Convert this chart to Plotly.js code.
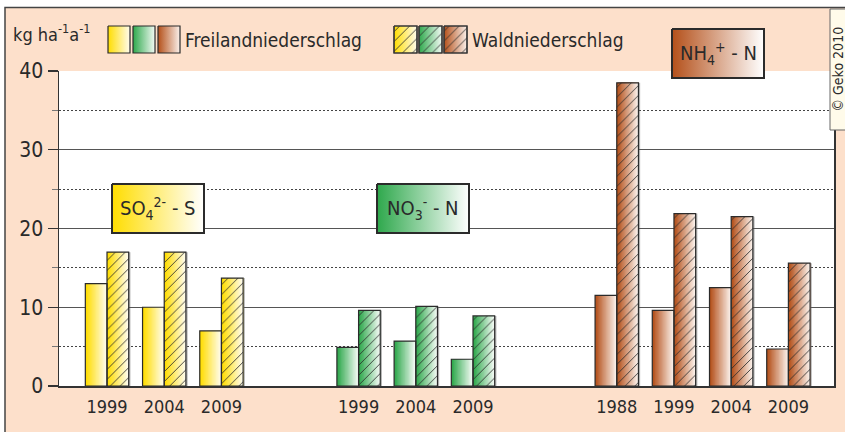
<!DOCTYPE html>
<html><head><meta charset="utf-8">
<script src="https://cdn.plot.ly/plotly-3.0.1.min.js"></script>
<style>html,body{margin:0;padding:0;background:#fff}#chart{width:845px;height:432px}</style>
</head><body><div id="chart"></div>
<script>
// ---------- data ----------
const so4Years = ['1999', '2004', '2009'];
const so4Freiland = [13.0, 10.0, 7.0];
const so4Wald = [17.0, 17.0, 13.7];
const no3Years = ['1999', '2004', '2009'];
const no3Freiland = [4.9, 5.7, 3.4];
const no3Wald = [9.6, 10.1, 8.9];
const nh4Years = ['1988', '1999', '2004', '2009'];
const nh4Freiland = [11.5, 9.6, 12.5, 4.7];
const nh4Wald = [38.5, 21.9, 21.5, 15.6];
const groupLabels = ['SO<sub>4</sub><sup>2-</sup> - S', 'NO<sub>3</sub><sup>-</sup> - N', 'NH<sub>4</sub><sup>+</sup> - N'];
const seriesNames = ['Freilandniederschlag', 'Waldniederschlag'];
const unitLabel = 'kg ha<sup>-1</sup>a<sup>-1</sup>';
const copyrightText = '© Geko 2010';
const yTickVals = [0, 10, 20, 30, 40];
const yMinorVals = [5, 15, 25, 35];

// ---------- layout / style ----------
const W = 845, H = 432;
const FONT = "'Liberation Sans Narrow', 'Arial Narrow', 'DejaVu Sans Condensed', 'Liberation Sans', sans-serif";
const TXT = '#2a2a2a';
const PEACH = '#FDE0CB';
const groups = [
  {years: so4Years, frei: so4Freiland, wald: so4Wald, start: 0.835, c0: '#FFDD00', c1: '#FFFCEE'},
  {years: no3Years, frei: no3Freiland, wald: no3Wald, start: 5.21, c0: '#2EA84C', c1: '#F3FAF4'},
  {years: nh4Years, frei: nh4Freiland, wald: nh4Wald, start: 9.70, c0: '#B4501A', c1: '#FBF1EB'}
];
const STEP = 0.995;
const BW = 0.377;
const XMAX = 775 / 57.5;

function hex2rgb(h){h=h.replace('#','');return [0,2,4].map(i=>parseInt(h.substr(i,2),16));}
function mix(a,b,t){const A=hex2rgb(a),B=hex2rgb(b);return 'rgb('+A.map((v,i)=>Math.round(v+(B[i]-v)*t)).join(',')+')';}

const xs = [], fr = [], wa = [], c0s = [], c1s = [], tt = [];
groups.forEach(g => g.years.forEach((y, i) => {
  xs.push(g.start + i * STEP); fr.push(g.frei[i]); wa.push(g.wald[i]);
  c0s.push(g.c0); c1s.push(g.c1); tt.push(y);
}));

const traces = [];
// shadow for forest bars
traces.push({type:'bar', x:xs, y:wa, offset:0.03, width:BW, marker:{color:'rgba(90,90,90,0.45)', line:{width:0}}, hoverinfo:'skip', showlegend:false});
const N = 16;
for (let k = 0; k < N; k++) {
  const cols = xs.map((_, i) => mix(c0s[i], c1s[i], k / (N - 1)));
  traces.push({type:'bar', x:xs, y:fr, offset:-BW + k * BW / N, width:BW * (1 - k / N),
    marker:{color:cols, line:{width:0}}, hoverinfo:'skip', showlegend:false});
  traces.push({type:'bar', x:xs, y:wa, offset:k * BW / N, width:BW * (1 - k / N),
    marker:{color:cols, line:{width:0}}, hoverinfo:'skip', showlegend:false});
}
traces.push({type:'bar', name:seriesNames[0], x:xs, y:fr, offset:-BW, width:BW,
  marker:{color:'rgba(0,0,0,0)', line:{color:'#2b2b2b', width:1.2}}, hoverinfo:'skip', showlegend:false});
traces.push({type:'bar', name:seriesNames[1], x:xs, y:wa, offset:0, width:BW,
  marker:{color:'rgba(0,0,0,0)', line:{color:'#2b2b2b', width:1.2},
    pattern:{shape:'/', fgcolor:'#2b2b2b', bgcolor:'rgba(0,0,0,0)', size:7, solidity:0.12}},
  hoverinfo:'skip', showlegend:false});

// decorations on a pixel overlay axis
function rect(x0,y0,x1,y1){return {x:[x0,x1,x1,x0,x0], y:[y0,y0,y1,y1,y0]};}
function gradBox(x0,y0,x1,y1,c0,c1,lw){
  const r = rect(x0,y0,x1,y1);
  return {type:'scatter', mode:'lines', x:r.x, y:r.y, xaxis:'x2', yaxis:'y2', fill:'toself',
    fillgradient:{type:'horizontal', colorscale:[[0,c0],[1,c1]]},
    line:{color:'#2b2b2b', width:lw}, hoverinfo:'skip', showlegend:false};
}
function hatchBox(x0,y0,x1,y1){
  const r = rect(x0,y0,x1,y1);
  return {type:'scatter', mode:'lines', x:r.x, y:r.y, xaxis:'x2', yaxis:'y2', fill:'toself',
    fillcolor:'rgba(0,0,0,0)',
    fillpattern:{shape:'/', fgcolor:'#2b2b2b', bgcolor:'rgba(0,0,0,0)', size:7, solidity:0.12},
    line:{color:'#3a3a3a', width:1.2}, hoverinfo:'skip', showlegend:false};
}
const swF = [[108,130],[133,155],[158,180]];
const swW = [[394,417],[419,442],[444,467]];
groups.forEach((g, i) => {
  traces.push(gradBox(swF[i][0], 26, swF[i][1], 53, g.c0, g.c1, 1.2));
  traces.push(gradBox(swW[i][0], 26, swW[i][1], 53, g.c0, g.c1, 1.2));
  traces.push(hatchBox(swW[i][0], 26, swW[i][1], 53));
});
const boxes = [[112,184,204,233],[377,184,469,233],[672,29,764,78]];
groups.forEach((g, i) => {
  const b = boxes[i];
  traces.push(gradBox(b[0], b[1], b[2], b[3], g.c0, '#FFFFFF', 2));
});

const annotations = [];
groups.forEach((g, i) => {
  const b = boxes[i];
  annotations.push({xref:'paper', yref:'paper', x:(b[0]+b[2])/2/W, y:1-(b[1]+b[3])/2/H,
    text:groupLabels[i], showarrow:false, xanchor:'center', yanchor:'middle',
    font:{family:FONT, size:20, color:TXT}});
});
annotations.push({xref:'paper', yref:'paper', x:11/W, y:1-33/H, text:unitLabel, showarrow:false,
  xanchor:'left', yanchor:'middle', font:{family:FONT, size:18, color:TXT}});
annotations.push({xref:'paper', yref:'paper', x:183/W, y:1-40/H, text:seriesNames[0], showarrow:false,
  xanchor:'left', yanchor:'middle', font:{family:FONT, size:19, color:TXT}});
annotations.push({xref:'paper', yref:'paper', x:470/W, y:1-40/H, text:seriesNames[1], showarrow:false,
  xanchor:'left', yanchor:'middle', font:{family:FONT, size:19, color:TXT}});
annotations.push({xref:'paper', yref:'paper', x:837.5/W, y:1-69/H, text:copyrightText, showarrow:false,
  textangle:-90, xanchor:'center', yanchor:'middle', font:{family:FONT, size:14, color:TXT}});

const shapes = [
  {type:'rect', xref:'paper', yref:'paper', x0:5/W, x1:1.05, y0:-0.05, y1:1-7.5/H,
    fillcolor:PEACH, line:{color:'#444', width:1.5}, layer:'below'},
  {type:'rect', xref:'paper', yref:'paper', x0:59/W, x1:834/W, y0:46/H, y1:361/H,
    fillcolor:'#FFFFFF', line:{width:0}, layer:'below'},
  {type:'rect', xref:'paper', yref:'paper', x0:830/W, x1:1.05, y0:1-130/H, y1:1-9/H,
    fillcolor:'#FFFBEA', line:{color:'#666', width:1}, layer:'above'}
];

const layout = {
  width:W, height:H, margin:{l:0, r:0, t:0, b:0},
  paper_bgcolor:'#FFFFFF', plot_bgcolor:'rgba(0,0,0,0)',
  barmode:'overlay', showlegend:false,
  font:{family:FONT, color:TXT},
  xaxis:{domain:[59/W, 834/W], range:[0, XMAX], tickmode:'array', tickvals:xs, ticktext:tt,
    showgrid:false, zeroline:false, showline:true, linecolor:'#333', linewidth:1.5,
    ticks:'', ticklabelstandoff:4, tickfont:{family:FONT, size:18, color:TXT}, fixedrange:true},
  yaxis:{domain:[46/H, 361/H], range:[0, 40], tickmode:'array', tickvals:yTickVals,
    showgrid:true, gridcolor:'#555', gridwidth:1, zeroline:false,
    showline:true, mirror:true, linecolor:'#333', linewidth:1.5,
    ticks:'outside', ticklen:10, tickcolor:'#333', tickwidth:1.2,
    tickfont:{family:FONT, size:21, color:TXT},
    minor:{tickmode:'array', tickvals:yMinorVals, showgrid:true, gridcolor:'#444', griddash:'2px,2px', gridwidth:1,
      ticks:'outside', ticklen:6, tickcolor:'#777', tickwidth:1},
    fixedrange:true},
  xaxis2:{domain:[0,1], range:[0,W], visible:false, anchor:'y2', fixedrange:true},
  yaxis2:{domain:[0,1], range:[H,0], visible:false, anchor:'x2', fixedrange:true},
  shapes:shapes, annotations:annotations
};

Plotly.newPlot('chart', traces, layout, {staticPlot:true, displayModeBar:false});
</script></body></html>
